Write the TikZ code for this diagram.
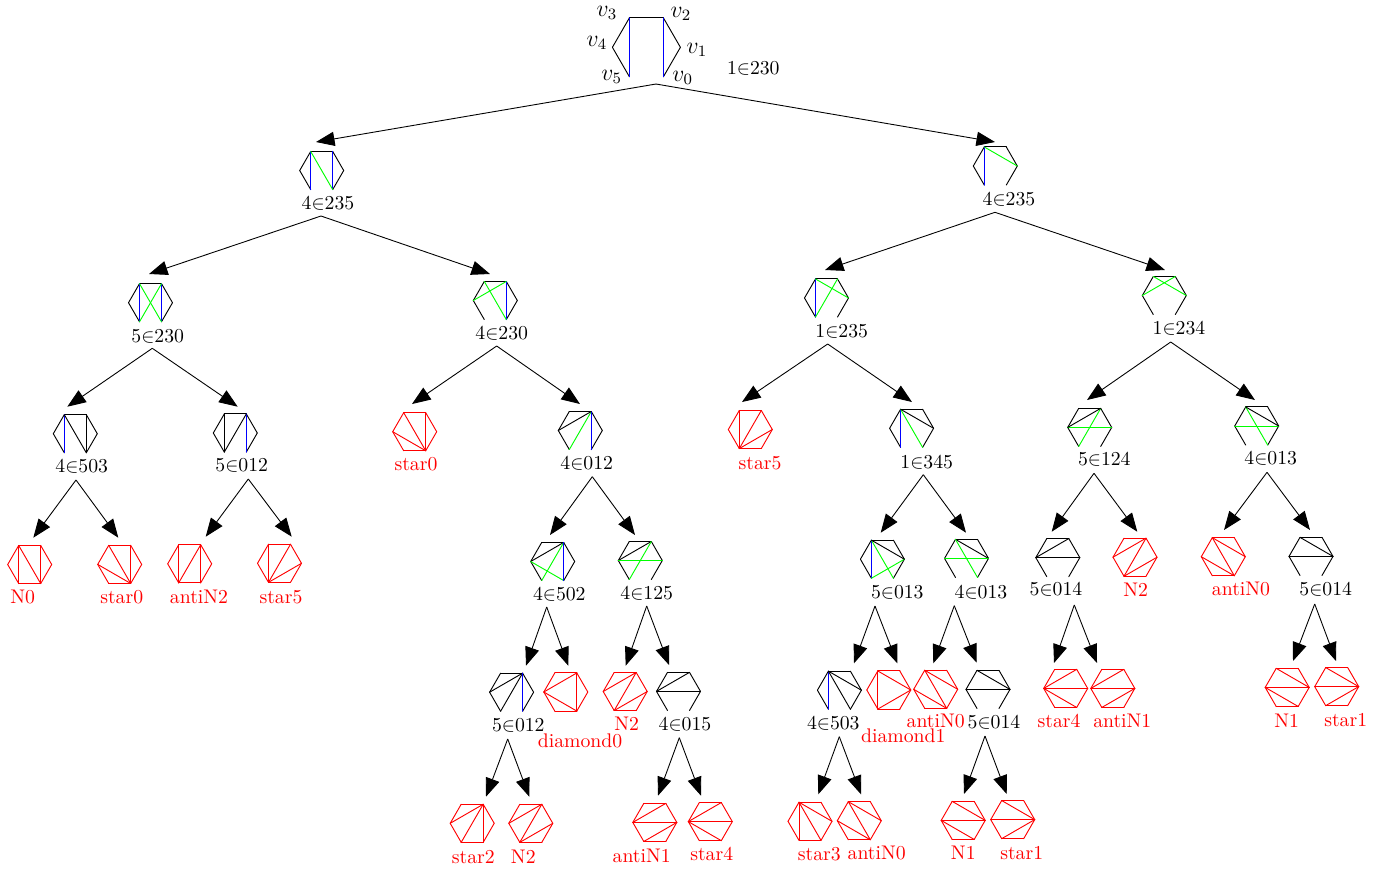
\documentclass[tikz,border=0pt]{standalone}
\usetikzlibrary{arrows.meta,calc}
\tikzset{
  txt/.style={inner sep=0pt,anchor=center},
  redtxt/.style={txt,text=red},
  vtxt/.style={txt,font=\large},
  conn/.style={-{Triangle[length=9.4pt,width=7.2pt]},black,line width=0.45pt},
  edge/.style={line width=0.47pt,line cap=round}
}
\newcommand{\HexPoints}[3]{% name, centre, radius
  \coordinate (#1) at (#2);
  \foreach \i in {0,...,5}{\coordinate (#1-\i) at ($(#1)+({60-60*\i}:#3)$);}
}
\newcommand{\BH}[6][22]{% radius; name, centre, chords colour/a/b, label pos, label
  \HexPoints{#2}{#3}{#1}
  \foreach \a/\b in {0/1,1/2,2/3,3/4,4/5}{\draw[edge,black] (#2-\a) -- (#2-\b);}
  \foreach \c/\a/\b in {#4}{\draw[edge,draw=\c] (#2-\a) -- (#2-\b);}
  \node[txt] (#2-label) at (#5) {#6};
}
\newcommand{\RH}[5]{% name, centre, chords a/b, label pos, label
  \HexPoints{#1}{#2}{22}
  \foreach \a/\b in {0/1,1/2,2/3,3/4,4/5,5/0}{\draw[edge,red] (#1-\a) -- (#1-\b);}
  \foreach \a/\b in {#3}{\draw[edge,red] (#1-\a) -- (#1-\b);}
  \node[redtxt] (#1-label) at (#4) {#5};
}
\newcommand{\Conn}[3]{% parent out-point, left target, right target
  \draw[conn] (#1) -- (#2);
  \draw[conn] (#1) -- (#3);
}
\begin{document}
\begin{tikzpicture}[x=0.507pt,y=-0.507pt]
\useasboundingbox (0,0) rectangle (1385,868);
% root
\BH[34]{r}{646.4,47.3}{blue/2/0,blue/3/5}{753.3,68}{1$\in$230}
\node[vtxt] (v3) at (607,13) {$v_3$};
\node[vtxt] (v2) at (681,14) {$v_2$};
\node[vtxt] (v4) at (597,43) {$v_4$};
\node[vtxt] (v1) at (697,50) {$v_1$};
\node[vtxt] (v5) at (611.7,77) {$v_5$};
\node[vtxt] (v0) at (682.7,78) {$v_0$};
% level 1
\BH{a}{321.7,170.5}{blue/3/5,blue/2/0,green/3/0}{328,203}{4$\in$235}
\BH{b}{995.3,166}{blue/3/5,green/3/1}{1009,199}{4$\in$235}
% level 2
\BH{aa}{150.5,302.7}{blue/3/5,blue/2/0,green/3/0,green/2/5}{157.7,336}{5$\in$230}
\BH{ab}{495.3,300.5}{blue/2/0,green/3/0,green/4/2}{501.7,333.3}{4$\in$230}
\BH{ba}{826.5,298}{blue/3/5,green/3/1,green/2/5}{841.7,331}{1$\in$235}
\BH{bb}{1164.3,295.5}{green/3/1,green/2/4}{1179,328}{1$\in$234}
% level 3
\BH{aaa}{75.3,433.7}{blue/3/5,black/3/0,black/2/0}{81.7,466}{4$\in$503}
\BH{aab}{235.3,433}{blue/2/0,black/3/5,black/2/5}{241.7,465}{5$\in$012}
\RH{aba}{414.7,431.7}{2/0,3/0,4/0}{416,464.3}{star0}
\BH{abb}{580.3,430.5}{green/2/5,blue/2/0,black/4/2}{586.7,463.3}{4$\in$012}
\RH{baa}{750.3,429.5}{3/5,2/5,1/5}{760,462.7}{star5}
\BH{bab}{911.6,428.3}{blue/3/5,green/3/0,black/3/1}{926.7,461.7}{1$\in$345}
\BH{bba}{1089.7,427.4}{green/4/1,green/2/5,black/4/2}{1104.3,459.3}{5$\in$124}
\BH{bbb}{1256.7,426}{green/4/1,green/3/0,black/3/1}{1270.7,458.3}{4$\in$013}
% level 4
\RH{aaaa}{29.7,564.5}{3/5,3/0,2/0}{22.7,597.3}{N0}
\RH{aaab}{119.7,564.4}{3/0,2/0,4/0}{121.7,597.3}{star0}
\RH{aaba}{189.7,563.8}{3/5,2/5,2/0}{199,596.7}{antiN2}
\RH{aabb}{279.5,563.3}{3/5,2/5,1/5}{281,596.7}{star5}
\BH{abba}{552.7,561.5}{black/4/2,green/2/5,green/4/0,blue/2/0}{559.3,594}{4$\in$502}
\BH{abbb}{640.3,560.5}{black/4/2,green/4/1,green/2/5}{646.7,593.3}{4$\in$125}
\BH{baba}{882.4,559.2}{blue/3/5,green/3/0,green/5/1,black/3/1}{897.3,592.3}{5$\in$013}
\BH{babb}{966.5,558.4}{black/3/1,green/3/0,green/4/1}{981,591.7}{4$\in$013}
\BH{bbaa}{1057.8,557.6}{black/4/2,black/4/1}{1056,589.3}{5$\in$014}
\RH{bbab}{1135,557.2}{4/2,2/5,5/1}{1135.7,589.3}{N2}
\RH{bbba}{1223.3,556.7}{3/1,3/0,4/0}{1241,589.3}{antiN0}
\BH{bbbb}{1311,556.4}{black/3/1,black/4/1}{1325.7,589}{5$\in$014}
% level 5
\BH{abbaa}{511.6,692.2}{black/4/2,black/2/5,blue/2/0}{518.3,725}{5$\in$012}
\RH{abbab}{565.8,692}{4/2,4/0,2/0}{580,741}{diamond0}
\RH{abbba}{625.2,691.5}{4/2,2/5,5/1}{626.7,723.3}{N2}
\BH{abbbb}{678.5,691.4}{black/4/2,black/4/1}{685,724.3}{4$\in$015}
\BH{babaa}{839.4,690.2}{blue/3/5,black/3/0,black/3/1}{833.3,722.7}{4$\in$503}
\RH{babab}{888.8,690}{3/5,3/1,5/1}{903.3,736}{diamond1}
\RH{babba}{935.7,689.3}{3/1,3/0,4/0}{935.7,721}{antiN0}
\BH{babbb}{988,689.4}{black/3/1,black/4/1}{994,722.3}{5$\in$014}
\RH{bbaaa}{1065.7,688.4}{4/2,4/1,4/0}{1059,721}{star4}
\RH{bbaab}{1112.8,688.4}{4/2,4/1,1/5}{1122.3,721}{antiN1}
\RH{bbbba}{1287.2,687.4}{3/1,4/1,4/0}{1286.7,720.7}{N1}
\RH{bbbbb}{1336.7,686.6}{3/1,4/1,5/1}{1345.7,720}{star1}
% level 6
\RH{abbaaa}{472.2,823.3}{4/2,2/5,2/0}{473.3,856.7}{star2}
\RH{abbaab}{530.8,823.3}{4/2,2/5,5/1}{523.3,856.7}{N2}
\RH{abbbba}{654.8,822.4}{4/2,4/1,5/1}{641.7,856}{antiN1}
\RH{abbbbb}{710.3,821.6}{4/2,4/1,4/0}{711.7,854.3}{star4}
\RH{babaaa}{810,821.3}{3/5,3/0,3/1}{819.3,854}{star3}
\RH{babaab}{859.3,820.7}{3/1,3/0,4/0}{876.7,853.3}{antiN0}
\RH{babbba}{963.2,820.4}{3/1,4/1,4/0}{963.3,852.7}{N1}
\RH{babbbb}{1012.7,819.6}{3/1,4/1,5/1}{1021.7,852.7}{star1}
% connector ends
\coordinate (r-out) at (656,84);
\coordinate (a-in) at (316,142);  \coordinate (b-in) at (995,142);
\coordinate (a-out) at (321,216); \coordinate (aa-in) at (149,274); \coordinate (ab-in) at (490,274);
\coordinate (b-out) at (995,212.3); \coordinate (ba-in) at (825,270); \coordinate (bb-in) at (1165,270);
\coordinate (aa-out) at (152.3,348.3); \coordinate (aaa-in) at (67.3,406.7); \coordinate (aab-in) at (237.7,406.7);
\coordinate (ab-out) at (496.7,346); \coordinate (aba-in) at (412,404); \coordinate (abb-in) at (580,404);
\coordinate (ba-out) at (827.7,344); \coordinate (baa-in) at (742,402); \coordinate (bab-in) at (912,402);
\coordinate (bb-out) at (1170.7,342); \coordinate (bba-in) at (1087,400); \coordinate (bbb-in) at (1255,400);
\coordinate (aaa-out) at (76,480); \coordinate (aaaa-in) at (33.3,537.7); \coordinate (aaab-in) at (118.3,537.7);
\coordinate (aab-out) at (248.3,479); \coordinate (aaba-in) at (205.7,536.7); \coordinate (aabb-in) at (291.7,536.7);
\coordinate (abb-out) at (592.3,476.7); \coordinate (abba-in) at (550,535); \coordinate (abbb-in) at (635,535);
\coordinate (bab-out) at (923.3,474.7); \coordinate (baba-in) at (880.7,532.7); \coordinate (babb-in) at (966,532.7);
\coordinate (bba-out) at (1094,473.3); \coordinate (bbaa-in) at (1051.7,531.7); \coordinate (bbab-in) at (1137.3,531.7);
\coordinate (bbb-out) at (1267,472.3); \coordinate (bbba-in) at (1224,530); \coordinate (bbbb-in) at (1310,530);
\coordinate (abba-out) at (546.7,607); \coordinate (abbaa-in) at (526,665.7); \coordinate (abbab-in) at (568.3,665.7);
\coordinate (abbb-out) at (646.7,606); \coordinate (abbba-in) at (625.7,665.7); \coordinate (abbbb-in) at (669,665);
\coordinate (baba-out) at (875,606); \coordinate (babaa-in) at (854,663.3); \coordinate (babab-in) at (897.3,663.3);
\coordinate (babb-out) at (954.3,605.7); \coordinate (babba-in) at (933.3,663.3); \coordinate (babbb-in) at (976.7,662.7);
\coordinate (bbaa-out) at (1074.3,605); \coordinate (bbaaa-in) at (1054,663); \coordinate (bbaab-in) at (1097,663);
\coordinate (bbbb-out) at (1314.7,604); \coordinate (bbbba-in) at (1293,661); \coordinate (bbbbb-in) at (1336,661);
\coordinate (abbaa-out) at (507.7,739); \coordinate (abbaaa-in) at (486,796.7); \coordinate (abbaab-in) at (529.3,796.7);
\coordinate (abbbb-out) at (679.3,737.7); \coordinate (abbbba-in) at (658,795.7); \coordinate (abbbbb-in) at (701,795.7);
\coordinate (babaa-out) at (839.3,736.7); \coordinate (babaaa-in) at (818.3,794.3); \coordinate (babaab-in) at (861,794.3);
\coordinate (babbb-out) at (985,736); \coordinate (babbba-in) at (964,794); \coordinate (babbbb-in) at (1006.7,794);
% connectors
\Conn{r-out}{a-in}{b-in}
\Conn{a-out}{aa-in}{ab-in}
\Conn{b-out}{ba-in}{bb-in}
\Conn{aa-out}{aaa-in}{aab-in}
\Conn{ab-out}{aba-in}{abb-in}
\Conn{ba-out}{baa-in}{bab-in}
\Conn{bb-out}{bba-in}{bbb-in}
\Conn{aaa-out}{aaaa-in}{aaab-in}
\Conn{aab-out}{aaba-in}{aabb-in}
\Conn{abb-out}{abba-in}{abbb-in}
\Conn{bab-out}{baba-in}{babb-in}
\Conn{bba-out}{bbaa-in}{bbab-in}
\Conn{bbb-out}{bbba-in}{bbbb-in}
\Conn{abba-out}{abbaa-in}{abbab-in}
\Conn{abbb-out}{abbba-in}{abbbb-in}
\Conn{baba-out}{babaa-in}{babab-in}
\Conn{babb-out}{babba-in}{babbb-in}
\Conn{bbaa-out}{bbaaa-in}{bbaab-in}
\Conn{bbbb-out}{bbbba-in}{bbbbb-in}
\Conn{abbaa-out}{abbaaa-in}{abbaab-in}
\Conn{abbbb-out}{abbbba-in}{abbbbb-in}
\Conn{babaa-out}{babaaa-in}{babaab-in}
\Conn{babbb-out}{babbba-in}{babbbb-in}
\end{tikzpicture}
\end{document}
